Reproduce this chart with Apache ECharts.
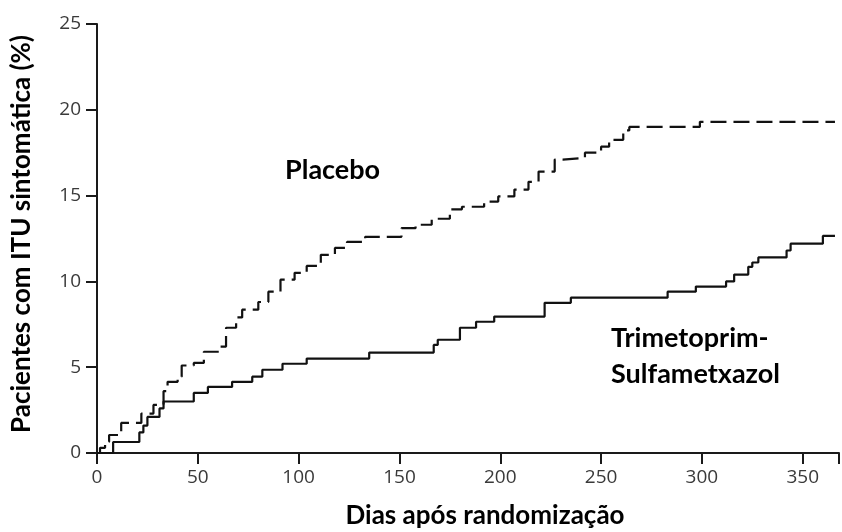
<!DOCTYPE html>
<html><head><meta charset="utf-8">
<script src="https://cdn.jsdelivr.net/npm/echarts@6/dist/echarts.min.js"></script>
<style>html,body{margin:0;padding:0;background:#fff}#c{width:842px;height:532px}</style>
</head><body><div id="c"></div>
<script>
// Day of event (step) and cumulative % after the step
const placebo = [[0,0],[1.5,0.3],[4,0.65],[6,1.05],[12,1.75],[22,2.3],[28,2.8],[33,3.6],[35,4.15],[40,4.45],[42,5.1],[48,5.25],[53,5.9],[61,6.2],[64,7.3],[69,7.9],[72,8.35],[80,8.8],[85,9.4],[91,10.1],[98,10.5],[104,10.9],[111,11.55],[118,11.95],[124,12.3],[133,12.6],[151,13.1],[158,13.3],[166,13.65],[175,14.2],[181,14.35],[192,14.65],[199,14.95],[207,15.35],[214,15.8],[219,16.4],[227,17.1],[231,17.2],[242,17.5],[250,17.85],[254,18.25],[261,18.8],[264,19.0],[299,19.3],[366,19.3]];
const tmpSmx = [[0,0],[8,0.64],[21,1.2],[23,1.6],[25,2.1],[31,2.6],[33,3.0],[48,3.5],[55,3.85],[67,4.15],[77,4.45],[82,4.85],[92,5.2],[104,5.5],[135,5.85],[167,6.3],[169,6.6],[180,7.3],[188,7.65],[197,7.95],[222,8.75],[235,9.05],[283,9.4],[297,9.7],[312,10.0],[316,10.4],[323,10.85],[325,11.1],[328,11.4],[342,11.8],[344,12.2],[360,12.65],[366,12.65]];
const xTicks = [0,50,100,150,200,250,300,350];
const yTicks = [0,5,10,15,20,25];
const labelPlacebo = 'Placebo';
const labelTmp = ['Trimetoprim-', 'Sulfametxazol'];
const xTitle = 'Dias após randomização';
const yTitle = 'Pacientes com ITU sintomática (%)';

const chart = echarts.init(document.getElementById('c'), null, {renderer:'canvas'});
const axisLine = {show:true, lineStyle:{color:'#1a1a1a', width:2}};
const axisTick = {show:true, length:11, lineStyle:{color:'#1a1a1a', width:2}};
const labelBase = {color:'#3a3a3a', fontFamily:'Open Sans', fontSize:19, margin:16};
chart.setOption({
  animation:false,
  backgroundColor:'#fff',
  grid:{left:97, right:0, top:24, bottom:79, containLabel:false},
  xAxis:{type:'value', min:0, max:368, interval:50, axisLine, axisTick, splitLine:{show:false},
    axisLabel:Object.assign({}, labelBase, {margin:15, formatter:v => xTicks.includes(v) ? String(v) : ''})},
  yAxis:{type:'value', min:0, max:25, interval:5, axisLine, axisTick, splitLine:{show:false},
    axisLabel:Object.assign({}, labelBase, {formatter:v => yTicks.includes(v) ? String(v) : ''})},
  series:[
    {type:'line', step:'end', data:placebo, symbol:'none',
     lineStyle:{color:'#111', width:2.2, type:[16,7]}},
    {type:'line', step:'end', data:tmpSmx, symbol:'none',
     lineStyle:{color:'#111', width:2.2, type:'solid'}}
  ],
  graphic:[
    {type:'text', left:285, top:157, style:{text:labelPlacebo, font:'bold 27px Lato', fill:'#000'}},
    {type:'text', left:611, top:320, style:{text:labelTmp.join('\n'), font:'bold 27px Lato', lineHeight:36, fill:'#000'}},
    {type:'text', x:485, y:516, style:{text:xTitle, font:'bold 26px Lato', fill:'#000', align:'center', verticalAlign:'middle'}},
    {type:'text', x:22, y:234, rotation:Math.PI/2, style:{text:yTitle, font:'bold 26px Lato', fill:'#000', align:'center', verticalAlign:'middle'}}
  ]
});
</script></body></html>
